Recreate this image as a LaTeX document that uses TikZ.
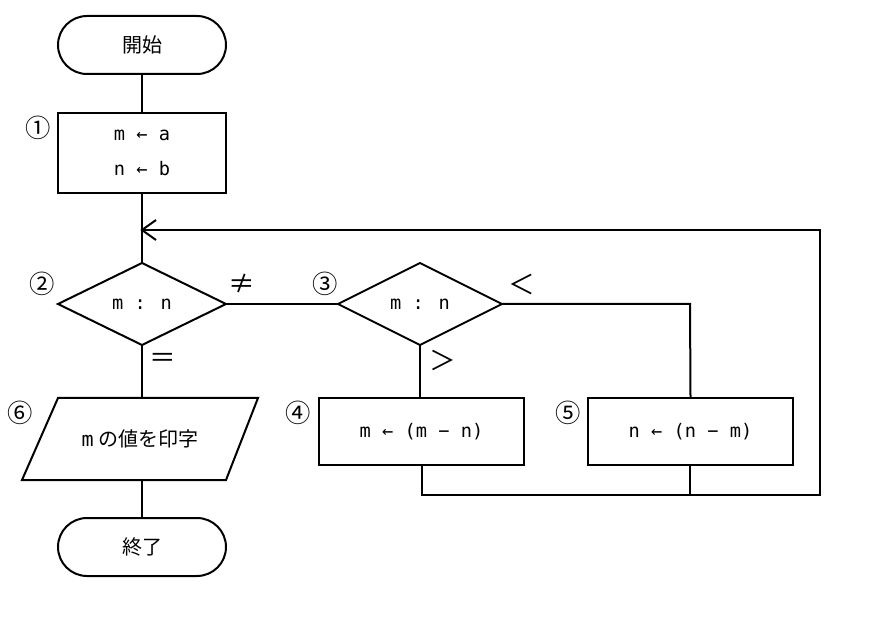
\documentclass[tikz,border=0pt]{standalone}
\usepackage{fontspec}
\setmainfont{Noto Sans CJK JP}
\newfontfamily\mono{DejaVu Sans Mono}
\usetikzlibrary{shapes.misc,arrows.meta}
\begin{document}
\begin{tikzpicture}[x=0.75pt,y=-0.75pt,line width=1.5pt,
  every node/.style={font=\fontsize{15}{20}\selectfont},
  box/.style={draw,minimum width=168*0.75pt,minimum height=80*0.75pt,inner sep=0pt},
  term/.style={draw,rounded rectangle,minimum width=168*0.75pt,minimum height=58*0.75pt,inner sep=0pt},
  lbl/.style={inner sep=0pt},
  num/.style={inner sep=0pt,font=\fontsize{19}{20}\selectfont},
  sym/.style={inner sep=0pt,font=\fontsize{20}{20}\selectfont}]
\useasboundingbox (0,0) rectangle (870,630);
\node[term] (start) at (142,45) {開始};
\node[box,align=center,font=\mono\fontsize{14}{26}\selectfont] (b1) at (142,153) {m ← a\\n ← b};
\node[num] (l1) at (38,128) {①};
\coordinate (j) at (142,230);
\draw (b1.south) -- (j);
\draw (142,263) -- (226,304) -- (142,345) -- (58,304) -- cycle;
\node[lbl,font=\mono\fontsize{14}{20}\selectfont] (d2) at (142,304) {m : n};
\coordinate (d2t) at (142,263); \coordinate (d2b) at (142,345);
\coordinate (d2r) at (226,304);
\draw (420,263) -- (502,304) -- (420,345) -- (338,304) -- cycle;
\node[lbl,font=\mono\fontsize{14}{20}\selectfont] (d3) at (420,304) {m : n};
\coordinate (d3l) at (338,304); \coordinate (d3r) at (502,304); \coordinate (d3b) at (420,345);
\node[num] at (42,284) {②};
\node[num] at (325,284) {③};
\node[sym] at (242,284) {≠};
\node[sym] at (522,284) {＜};
\node[sym] at (443,360) {＞};
\node[sym] at (163,360) {＝};
\draw (start.south) -- (b1.north);
\draw (j) -- (d2t);
\draw (d2r) -- (d3l);
\node[draw,minimum width=205*0.75pt,minimum height=67*0.75pt,inner sep=0pt,font=\mono\fontsize{14}{20}\selectfont] (b4) at (421.5,431.5) {m ← (m − n)};
\node[draw,minimum width=205*0.75pt,minimum height=67*0.75pt,inner sep=0pt,font=\mono\fontsize{14}{20}\selectfont] (b5) at (690.5,431.5) {n ← (n − m)};
\node[num] at (298,413) {④};
\node[num] at (568,413) {⑤};
\draw (d3b) -- (d3b |- b4.north);
\draw (d3r) -- (690,304) -- (b5.north);
\coordinate (c1) at (422,495); \coordinate (c2) at (820,495); \coordinate (c3) at (820,230);
\draw (422,465) -- (c1) -- (c2) -- (c3) -- (j);
\draw (690,465) -- (690,495);
\draw (156,220) -- (142,230) -- (156,240);
\draw (d2b) -- (142,398);
\draw (58,398) -- (258,398) -- (226,480) -- (22,480) -- cycle;
\node[lbl] (p6) at (140,439) {{\mono m} の値を印字};
\node[num] at (20,413) {⑥};
\node[term] (end) at (142,547) {終了};
\draw (142,480) -- (end.north);
\end{tikzpicture}
\end{document}
